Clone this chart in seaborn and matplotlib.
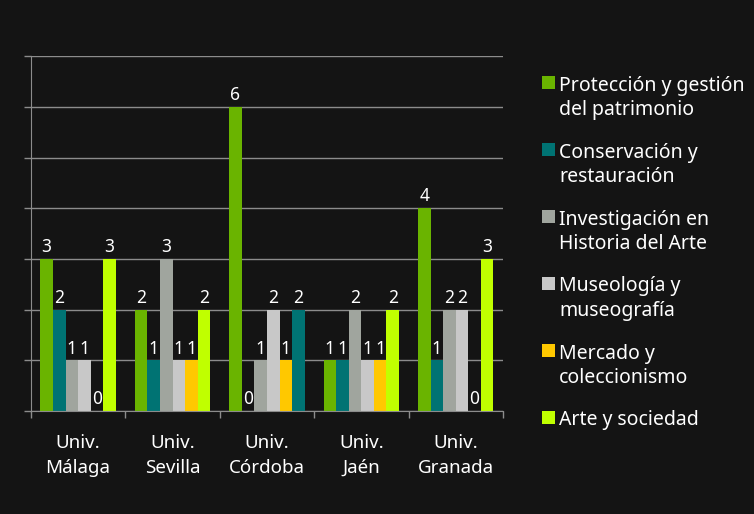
import matplotlib
matplotlib.use("Agg")
import matplotlib.pyplot as plt
import seaborn as sns
import pandas as pd

universidades = ["Univ.\nMálaga", "Univ.\nSevilla", "Univ.\nCórdoba", "Univ.\nJaén", "Univ.\nGranada"]
series = [
    "Protección y gestión\ndel patrimonio",
    "Conservación y\nrestauración",
    "Investigación en\nHistoria del Arte",
    "Museología y\nmuseografía",
    "Mercado y\ncoleccionismo",
    "Arte y sociedad",
]
proteccion = [3, 2, 6, 1, 4]
conservacion = [2, 1, 0, 1, 1]
investigacion = [1, 3, 1, 2, 2]
museologia = [1, 1, 2, 1, 2]
mercado = [0, 1, 1, 1, 0]
arte_sociedad = [3, 2, 2, 2, 3]
colores = ["#6ab400", "#007373", "#a0a59e", "#c8c8c8", "#ffc800", "#c0ff00"]

valores = [proteccion, conservacion, investigacion, museologia, mercado, arte_sociedad]
rows = []
for serie, vals in zip(series, valores):
    for uni, v in zip(universidades, vals):
        rows.append({"universidad": uni, "serie": serie, "valor": v})
df = pd.DataFrame(rows)

bg = "#141414"
grid = "#8c8c8c"
sns.set_style("dark")
plt.rcParams["font.family"] = ["Noto Sans", "DejaVu Sans"]

fig = plt.figure(figsize=(7.54, 5.14), dpi=100, facecolor=bg)
ax = fig.add_axes([0.041, 0.200, 0.626, 0.691])
ax.set_facecolor(bg)

sns.barplot(data=df, x="universidad", y="valor", hue="serie",
            order=universidades, hue_order=series, palette=colores,
            saturation=1, width=0.8, gap=0, errorbar=None, linewidth=0,
            legend=False, ax=ax)

# the original slide paints Córdoba's "Arte y sociedad" bar in teal
ax.containers[5][2].set_facecolor(colores[1])

for cont in ax.containers:
    ax.bar_label(cont, color="white", fontsize=12.5, padding=2)

ax.set_ylim(0, 7)
ax.set_yticks(range(0, 8))
ax.set_yticklabels([])
ax.yaxis.grid(True, color=grid, linewidth=1)
ax.xaxis.grid(False)
ax.set_axisbelow(True)
ax.tick_params(axis="y", left=True, length=5, color=grid, width=1)
ax.set_xticks([i + 0.5 for i in range(-1, 5)], minor=True)
ax.tick_params(axis="x", which="minor", bottom=True, length=5, color=grid, width=1)
ax.tick_params(axis="x", which="major", bottom=False, labelsize=13.5, labelcolor="white", pad=13)
for lbl in ax.get_xticklabels():
    lbl.set_linespacing(1.48)
ax.set_xlim(-0.5, 4.5)
ax.set_xlabel("")
ax.set_ylabel("")
for side in ["top", "right"]:
    ax.spines[side].set_visible(False)
for side in ["left", "bottom"]:
    ax.spines[side].set_visible(True)
    ax.spines[side].set_color(grid)

# legend drawn by hand so the swatch sits on the first line of each entry
W, H = fig.get_size_inches() * fig.dpi
sq = 13
top = 90      # baseline of first line, px from top
pitch = 67    # px between entries
line_px = 25  # px between lines inside an entry
for i, (serie, color) in enumerate(zip(series, colores)):
    base = top + i * pitch
    last_base = base + serie.count("\n") * line_px
    fig.patches.append(plt.Rectangle((542 / W, 1 - (base - 1) / H), sq / W, sq / H,
                                     transform=fig.transFigure, facecolor=color,
                                     linewidth=0))
    fig.text(559 / W, 1 - last_base / H, serie, color="white", fontsize=14,
             va="baseline", ha="left", linespacing=1.3)

fig.savefig("out.png", dpi=100, facecolor=bg)
